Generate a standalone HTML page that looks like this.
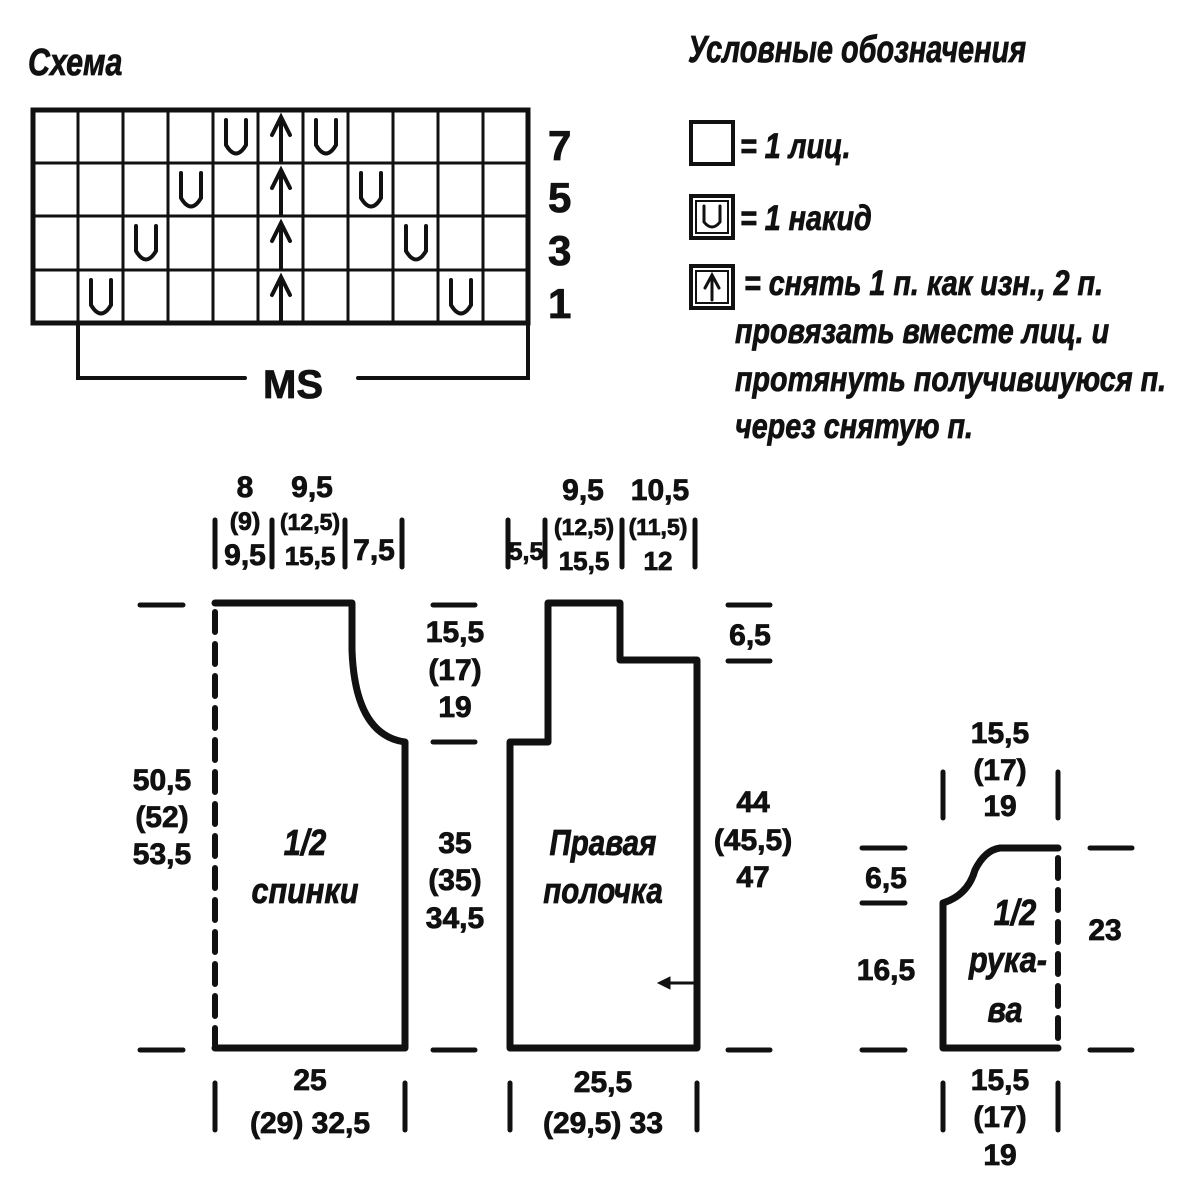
<!DOCTYPE html>
<html><head><meta charset="utf-8"><style>
html,body{margin:0;padding:0;background:#fff;}
svg{display:block}
text{font-family:"Liberation Sans","DejaVu Sans",sans-serif;font-weight:bold;fill:#111;stroke:#111;stroke-width:0.8}
.i{font-style:italic}
</style></head><body>
<svg width="1200" height="1200" viewBox="0 0 1200 1200" xmlns="http://www.w3.org/2000/svg">
<g stroke="#111" fill="none" stroke-linecap="round">
<rect x="33" y="110" width="495" height="213" stroke-width="5"/>
<g stroke-width="3">
<line x1="78" y1="110" x2="78" y2="323"/><line x1="123" y1="110" x2="123" y2="323"/>
<line x1="168" y1="110" x2="168" y2="323"/><line x1="213" y1="110" x2="213" y2="323"/>
<line x1="258" y1="110" x2="258" y2="323"/><line x1="303" y1="110" x2="303" y2="323"/>
<line x1="348" y1="110" x2="348" y2="323"/><line x1="393" y1="110" x2="393" y2="323"/>
<line x1="438" y1="110" x2="438" y2="323"/><line x1="483" y1="110" x2="483" y2="323"/>
<line x1="33" y1="163" x2="528" y2="163"/><line x1="33" y1="216" x2="528" y2="216"/>
<line x1="33" y1="270" x2="528" y2="270"/>
</g>
<g stroke-width="4">
<path d="M226 120 V145 Q236 162 246 145 V120"/>
<path d="M316 120 V145 Q326 162 336 145 V120"/>
<path d="M181 173 V198 Q191 215 201 198 V173"/>
<path d="M361 173 V198 Q371 215 381 198 V173"/>
<path d="M136 226 V251 Q146 268 156 251 V226"/>
<path d="M406 226 V251 Q416 268 426 251 V226"/>
<path d="M91 280 V305 Q101 322 111 305 V280"/>
<path d="M451 280 V305 Q461 322 471 305 V280"/>
</g>
<g stroke-width="4">
<path d="M281 162 V118 M272 135 L281 117 L290 135"/>
<path d="M281 215 V171 M272 188 L281 170 L290 188"/>
<path d="M281 268 V224 M272 241 L281 223 L290 241"/>
<path d="M281 322 V278 M272 295 L281 277 L290 295"/>
</g>
<path d="M78 323 V378 H245 M358 378 H528 V323" stroke-width="4"/>
<rect x="691" y="122" width="42" height="42" stroke-width="4"/>
<rect x="691" y="196" width="42" height="42" stroke-width="4"/>
<rect x="696" y="201" width="32" height="32" stroke-width="2"/>
<path d="M704 206 V222 Q712 232 720 222 V206" stroke-width="3"/>
<rect x="691" y="266" width="42" height="42" stroke-width="4"/>
<rect x="696" y="271" width="32" height="32" stroke-width="2"/>
<path d="M712 300 V276 M705 288 L712 275 L719 288" stroke-width="3"/>

<path d="M215 603 H352 V650 Q355 735 405 742 V1048 H215" stroke-width="7" stroke-linejoin="round"/>
<line x1="215" y1="612" x2="215" y2="1045" stroke-width="6" stroke-dasharray="20,12"/>
<path d="M548 742 V603 H620 V660 H697 V1048 H510 V742 Z" stroke-width="7" stroke-linejoin="round"/>
<path d="M697 983 H665" stroke-width="3"/>
<path d="M658 983 L670 977 L670 989 Z" fill="#111" stroke-width="1"/>
<path d="M1058 848 H1000 Q985 850 975 870 Q968 895 943 903 V1048 H1058" stroke-width="7" stroke-linejoin="round"/>
<line x1="1058" y1="858" x2="1058" y2="1045" stroke-width="6" stroke-dasharray="20,12"/>

<g stroke-width="5">
<line x1="140" y1="605" x2="183" y2="605"/><line x1="140" y1="1050" x2="183" y2="1050"/>
<line x1="433" y1="605" x2="475" y2="605"/><line x1="433" y1="742" x2="475" y2="742"/>
<line x1="433" y1="1050" x2="475" y2="1050"/>
<line x1="728" y1="605" x2="770" y2="605"/><line x1="728" y1="661" x2="770" y2="661"/>
<line x1="728" y1="1050" x2="770" y2="1050"/>
<line x1="862" y1="848" x2="905" y2="848"/><line x1="862" y1="903" x2="905" y2="903"/>
<line x1="862" y1="1050" x2="905" y2="1050"/>
<line x1="1090" y1="848" x2="1132" y2="848"/><line x1="1090" y1="1050" x2="1132" y2="1050"/>
<line x1="215" y1="520" x2="215" y2="567"/><line x1="272" y1="520" x2="272" y2="567"/>
<line x1="345" y1="520" x2="345" y2="567"/><line x1="402" y1="520" x2="402" y2="567"/>
<line x1="508" y1="520" x2="508" y2="567"/><line x1="545" y1="520" x2="545" y2="567"/>
<line x1="622" y1="520" x2="622" y2="567"/><line x1="695" y1="520" x2="695" y2="567"/>
<line x1="215" y1="1083" x2="215" y2="1130"/><line x1="405" y1="1083" x2="405" y2="1130"/>
<line x1="510" y1="1083" x2="510" y2="1130"/><line x1="697" y1="1083" x2="697" y2="1130"/>
<line x1="943" y1="1083" x2="943" y2="1130"/><line x1="1058" y1="1083" x2="1058" y2="1130"/>
<line x1="943" y1="772" x2="943" y2="818"/><line x1="1058" y1="772" x2="1058" y2="818"/>
</g>
</g>

<text x="28" y="75" class="i" font-size="38" stroke-width="1.2" transform="translate(28,0) scale(0.8,1) translate(-28,0)">Схема</text>
<text x="688" y="62" class="i" font-size="38" stroke-width="1.2" transform="translate(688,0) scale(0.76,1) translate(-688,0)">Условные обозначения</text>
<g font-size="42">
<text x="548" y="160">7</text><text x="548" y="212">5</text>
<text x="548" y="265">3</text><text x="548" y="318">1</text>
</g>
<text x="263" y="398" font-size="40">MS</text>

<g class="i" font-size="35" stroke-width="1">
<text x="740" y="158" transform="translate(740,0) scale(0.82,1) translate(-740,0)">= 1 лиц.</text>
<text x="740" y="230" transform="translate(740,0) scale(0.82,1) translate(-740,0)">= 1 накид</text>
<text x="744" y="295" transform="translate(744,0) scale(0.82,1) translate(-744,0)">=  снять 1 п. как изн., 2 п.</text>
<text x="735" y="343" transform="translate(735,0) scale(0.82,1) translate(-735,0)">провязать вместе лиц. и</text>
<text x="735" y="391" transform="translate(735,0) scale(0.82,1) translate(-735,0)">протянуть получившуюся п.</text>
<text x="735" y="438" transform="translate(735,0) scale(0.82,1) translate(-735,0)">через снятую п.</text>
</g>

<g font-size="30" text-anchor="middle">
<text x="245" y="497">8</text><text x="245" y="530" font-size="25">(9)</text><text x="245" y="565">9,5</text>
<text x="312" y="497">9,5</text><text x="310" y="530" font-size="23">(12,5)</text><text x="310" y="565" font-size="26">15,5</text>
<text x="374" y="560">7,5</text>
<text x="526" y="560" font-size="25">5,5</text>
<text x="583" y="500">9,5</text><text x="584" y="535" font-size="23">(12,5)</text><text x="584" y="570" font-size="26">15,5</text>
<text x="660" y="500">10,5</text><text x="658" y="535" font-size="23">(11,5)</text><text x="658" y="570" font-size="26">12</text>

<text x="455" y="642">15,5</text><text x="455" y="680">(17)</text><text x="455" y="717">19</text>
<text x="750" y="645">6,5</text>
<text x="162" y="790">50,5</text><text x="162" y="827">(52)</text><text x="162" y="864">53,5</text>
<text x="455" y="853">35</text><text x="455" y="890">(35)</text><text x="455" y="928">34,5</text>
<text x="753" y="812">44</text><text x="753" y="850">(45,5)</text><text x="753" y="887">47</text>
<text x="310" y="1090">25</text><text x="310" y="1133">(29) 32,5</text>
<text x="603" y="1092">25,5</text><text x="603" y="1133">(29,5) 33</text>
<text x="1000" y="743">15,5</text><text x="1000" y="780">(17)</text><text x="1000" y="816">19</text>
<text x="886" y="888">6,5</text><text x="886" y="980">16,5</text>
<text x="1105" y="940">23</text>
<text x="1000" y="1090">15,5</text><text x="1000" y="1127">(17)</text><text x="1000" y="1165">19</text>
</g>

<g class="i" font-size="36" text-anchor="middle" stroke-width="1">
<text x="305" y="855" transform="translate(305,0) scale(0.85,1) translate(-305,0)">1/2</text>
<text x="305" y="903" transform="translate(305,0) scale(0.85,1) translate(-305,0)">спинки</text>
<text x="603" y="855" transform="translate(603,0) scale(0.82,1) translate(-603,0)">Правая</text>
<text x="603" y="903" transform="translate(603,0) scale(0.82,1) translate(-603,0)">полочка</text>
<text x="1015" y="925" transform="translate(1015,0) scale(0.85,1) translate(-1015,0)">1/2</text>
<text x="1008" y="972" transform="translate(1008,0) scale(0.85,1) translate(-1008,0)">рука-</text>
<text x="1005" y="1022" transform="translate(1005,0) scale(0.85,1) translate(-1005,0)">ва</text>
</g>
</svg>
</body></html>
